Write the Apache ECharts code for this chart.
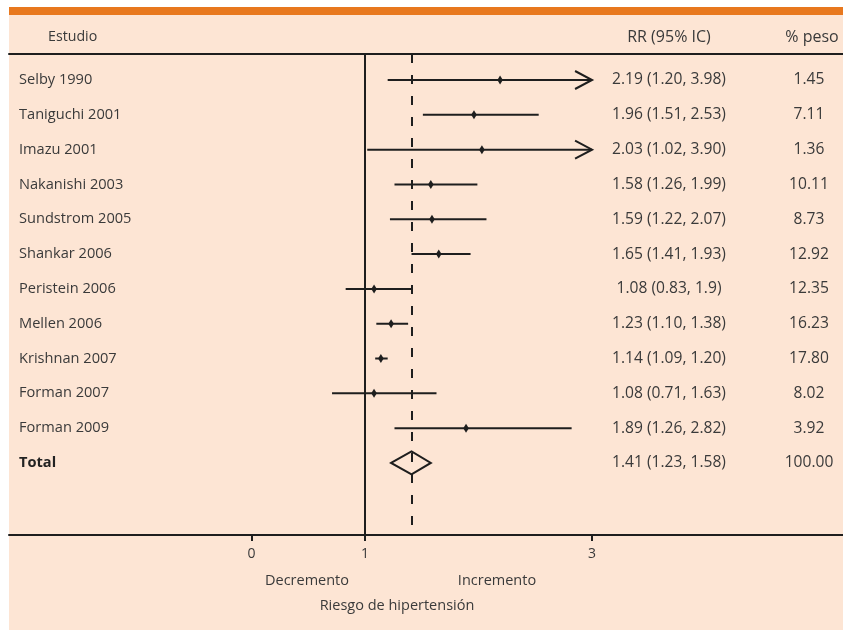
<!DOCTYPE html>
<html>
<head>
<meta charset="utf-8">
<script src="https://cdn.jsdelivr.net/npm/echarts@6/dist/echarts.min.js"></script>
<style>
  html, body { margin: 0; padding: 0; background: #ffffff; }
  #chart { width: 843px; height: 634px; }
</style>
</head>
<body>
<div id="chart"></div>
<script>
// ---- data ----
const studies = ['Selby 1990', 'Taniguchi 2001', 'Imazu 2001', 'Nakanishi 2003', 'Sundstrom 2005',
  'Shankar 2006', 'Peristein 2006', 'Mellen 2006', 'Krishnan 2007', 'Forman 2007', 'Forman 2009'];
const rrEst  = [2.19, 1.96, 2.03, 1.58, 1.59, 1.65, 1.08, 1.23, 1.14, 1.08, 1.89];
const ciLow  = [1.20, 1.51, 1.02, 1.26, 1.22, 1.41, 0.83, 1.10, 1.09, 0.71, 1.26];
const ciHigh = [3.98, 2.53, 3.90, 1.99, 2.07, 1.93, 1.41, 1.38, 1.20, 1.63, 2.82];
const rrLabels = ['2.19 (1.20, 3.98)', '1.96 (1.51, 2.53)', '2.03 (1.02, 3.90)', '1.58 (1.26, 1.99)',
  '1.59 (1.22, 2.07)', '1.65 (1.41, 1.93)', '1.08 (0.83, 1.9)', '1.23 (1.10, 1.38)',
  '1.14 (1.09, 1.20)', '1.08 (0.71, 1.63)', '1.89 (1.26, 2.82)'];
const weights = [1.45, 7.11, 1.36, 10.11, 8.73, 12.92, 12.35, 16.23, 17.80, 8.02, 3.92];
const totalLabel = 'Total';
const totalEst = 1.41, totalLow = 1.23, totalHigh = 1.58;
const totalRR = '1.41 (1.23, 1.58)';
const totalWeight = 100.00;
const xTicks = [0, 1, 3];
const axisCap = 3;

// ---- layout / style ----
const FONT = '"Open Sans", "DejaVu Sans", sans-serif';
const FS_NAME = 14.6;
const FS_NUM = 15.6;
const FS_AX = 14.5;
const TXT = '#3a3a3a';
const LN = '#1e1e1e';
const BG = '#fde5d4';
const ORANGE = '#e8781e';
const nameX = 19, rrX = 669, wX = 809;

const data = studies.map((s, i) => [rrEst[i], i + 1, ciLow[i], ciHigh[i], 0, i]);
data.push([totalEst, studies.length + 1, totalLow, totalHigh, 1, -1]);

function txt(text, x, y, size, align, weight, color) {
  return { type: 'text', style: { text, x, y, fill: color || TXT,
    font: (weight ? weight + ' ' : '') + size + 'px ' + FONT, textAlign: align, textVerticalAlign: 'middle' } };
}

function renderItem(params, api) {
  const idx = api.value(1);
  const kind = api.value(4);
  const i = api.value(5);
  const y = api.coord([0, idx])[1];
  const xe = api.coord([api.value(0), idx])[0];
  const xl = api.coord([api.value(2), idx])[0];
  const hiVal = api.value(3);
  const xh = api.coord([Math.min(hiVal, axisCap), idx])[0];
  const children = [];
  if (kind === 0) {
    children.push({ type: 'line', shape: { x1: xl, y1: y, x2: xh, y2: y }, style: { stroke: LN, lineWidth: 2 } });
    if (hiVal > axisCap) {
      children.push({ type: 'polyline', shape: { points: [[xh - 17, y - 9], [xh, y], [xh - 17, y + 9]] },
        style: { stroke: LN, lineWidth: 2, fill: null } });
    }
    children.push({ type: 'polygon', shape: { points: [[xe, y - 4.5], [xe + 2.8, y], [xe, y + 4.5], [xe - 2.8, y]] },
      style: { fill: LN } });
    children.push(txt(studies[i], nameX, y, FS_NAME, 'left'));
    children.push(txt(rrLabels[i], rrX, y, FS_NUM, 'center'));
    children.push(txt(weights[i].toFixed(2), wX, y, FS_NUM, 'center'));
  } else {
    children.push({ type: 'polygon', shape: { points: [[xl, y], [xe, y - 11.5], [xh, y], [xe, y + 11.5]] },
      style: { stroke: LN, lineWidth: 2, fill: null } });
    children.push(txt(totalLabel, nameX, y, FS_NAME, 'left', 'bold', '#222'));
    children.push(txt(totalRR, rrX, y, FS_NUM, 'center'));
    children.push(txt(totalWeight.toFixed(2), wX, y, FS_NUM, 'center'));
  }
  return { type: 'group', children };
}

const chart = echarts.init(document.getElementById('chart'), null, { renderer: 'canvas' });
chart.setOption({
  animation: false,
  backgroundColor: '#ffffff',
  graphic: [
    { type: 'rect', shape: { x: 9, y: 7, width: 834, height: 623 }, style: { fill: BG }, z: -10 },
    { type: 'rect', shape: { x: 9, y: 7, width: 834, height: 8 }, style: { fill: ORANGE }, z: -9 },
    txt('Estudio', 48, 37, 14.2, 'left'),
    txt('RR (95% IC)', rrX, 37, 16, 'center'),
    txt('% peso', 812, 37, 16, 'center'),
    txt('Decremento', 307, 581, FS_AX, 'center'),
    txt('Incremento', 497, 581, FS_AX, 'center'),
    txt('Riesgo de hipertensión', 397, 606, FS_AX, 'center')
  ],
  grid: { left: 9, right: 0, top: 54, bottom: 99 },
  xAxis: [{
    type: 'value', min: -2.135, max: 5.21, position: 'bottom',
    axisLine: { show: true, onZero: false, lineStyle: { color: LN, width: 2 } },
    axisTick: { show: true, customValues: xTicks, length: 6, lineStyle: { color: LN, width: 2 } },
    axisLabel: { show: true, customValues: xTicks, color: TXT, fontFamily: FONT, fontSize: 14, margin: 12 },
    splitLine: { show: false }
  }, {
    type: 'value', min: -2.135, max: 5.21, position: 'top',
    axisLine: { show: true, onZero: false, lineStyle: { color: LN, width: 2 } },
    axisTick: { show: false }, axisLabel: { show: false }, splitLine: { show: false }
  }],
  yAxis: { type: 'value', inverse: true, min: 0.253, max: 14.07, show: false },
  series: [{
    type: 'custom',
    renderItem,
    data,
    encode: { x: 0, y: 1 },
    clip: false,
    markLine: {
      silent: true, symbol: 'none', label: { show: false },
      data: [
        { xAxis: 1, lineStyle: { color: LN, width: 2, type: 'solid' } },
        { xAxis: totalEst, lineStyle: { color: LN, width: 2, type: [9, 12] } }
      ]
    }
  }]
});
</script>
</body>
</html>
